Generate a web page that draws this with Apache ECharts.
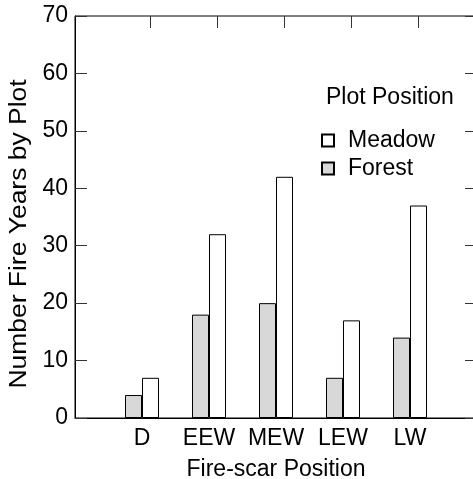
<!DOCTYPE html>
<html>
<head>
<meta charset="utf-8">
<script src="https://cdn.jsdelivr.net/npm/echarts@6/dist/echarts.min.js"></script>
<style>html,body{margin:0;padding:0;background:#fff;}#c{width:473px;height:479px;}</style>
</head>
<body>
<div id="c"></div>
<script>
var categories = ['D', 'EEW', 'MEW', 'LEW', 'LW'];
var meadow = [7, 32, 42, 17, 37];
var forest = [4, 18, 20, 7, 14];
var yTicks = [0, 10, 20, 30, 40, 50, 60, 70];

var FONT = '"Liberation Sans", Arial, sans-serif';
var axisCats = [''].concat(categories, ['']);
function pad(arr) { return ['-'].concat(arr, ['-']); }
var yMin = yTicks[0], yMax = yTicks[yTicks.length - 1];
var topTickLen = (yMax - yMin) * 12 / 402;  // 12px tick expressed as a fraction of the axis span
var topTicks = categories.map(function (c) {
  return [{coord: [c, yMax]}, {coord: [c, yMax - topTickLen]}];
});

var chart = echarts.init(document.getElementById('c'), null, {renderer: 'canvas'});
chart.setOption({
  animation: false,
  backgroundColor: '#fff',
  textStyle: {fontFamily: FONT},
  title: {
    text: 'Plot Position', left: 326, top: 86, padding: 0,
    textStyle: {fontFamily: FONT, fontSize: 23, fontWeight: 'normal', color: '#000'}
  },
  legend: {
    data: ['Meadow', 'Forest'], orient: 'vertical', left: 321, top: 129, padding: 0,
    itemWidth: 12, itemHeight: 12, itemGap: 5, icon: 'rect',
    textStyle: {fontFamily: FONT, fontSize: 23, color: '#000', padding: [0, 0, 0, 9], lineHeight: 23}
  },
  graphic: [{
    type: 'text', x: 20, y: 234, rotation: Math.PI / 2, scaleX: 1.15,
    style: {text: 'Number Fire Years by Plot', fontFamily: FONT, fontSize: 23, fill: '#000', align: 'center', verticalAlign: 'middle'}
  }],
  grid: {left: 75, top: 16, width: 402, height: 402, containLabel: false, outerBoundsMode: 'none',
    show: true, borderColor: '#000', borderWidth: 1, backgroundColor: 'transparent'},
  xAxis: [{
    type: 'category', data: axisCats, boundaryGap: false, position: 'bottom',
    name: 'Fire-scar Position', nameLocation: 'middle', nameGap: 40,
    nameTextStyle: {fontFamily: FONT, fontSize: 23, color: '#000'},
    axisLine: {show: true, onZero: false, lineStyle: {color: '#000', width: 1}},
    axisTick: {show: false},
    axisLabel: {interval: 0, margin: 9, fontFamily: FONT, fontSize: 23, color: '#000'},
    splitLine: {show: false}
  }],
  yAxis: [{
    type: 'value', min: yMin, max: yMax, interval: 10, position: 'left',
    axisLine: {show: true, onZero: false, lineStyle: {color: '#000', width: 1}},
    axisTick: {show: true, inside: true, length: 12, lineStyle: {color: '#333', width: 1}},
    axisLabel: {margin: 7, fontFamily: FONT, fontSize: 23, color: '#000',
      formatter: function (v) { return yTicks.indexOf(v) >= 0 ? String(v) : ''; }},
    splitLine: {show: false}
  }, {
    type: 'value', min: yMin, max: yMax, interval: 10, position: 'right',
    axisLine: {show: true, onZero: false, lineStyle: {color: '#000', width: 1}},
    axisTick: {show: true, inside: true, length: 12, lineStyle: {color: '#333', width: 1}},
    axisLabel: {show: false},
    splitLine: {show: false}
  }],
  series: [{
    name: 'Forest', type: 'bar', xAxisIndex: 0, yAxisIndex: 0,
    data: pad(forest), barWidth: 17, barGap: '0%',
    itemStyle: {color: '#d8d8d8', borderColor: '#000', borderWidth: 1}
  }, {
    name: 'Meadow', type: 'bar', xAxisIndex: 0, yAxisIndex: 0,
    data: pad(meadow), barWidth: 17, barGap: '0%',
    itemStyle: {color: '#fff', borderColor: '#000', borderWidth: 1},
    markLine: {
      silent: true, animation: false, symbol: ['none', 'none'],
      label: {show: false},
      lineStyle: {color: '#333', width: 1, type: 'solid'},
      emphasis: {disabled: true},
      data: topTicks
    }
  }]
});
</script>
</body>
</html>
